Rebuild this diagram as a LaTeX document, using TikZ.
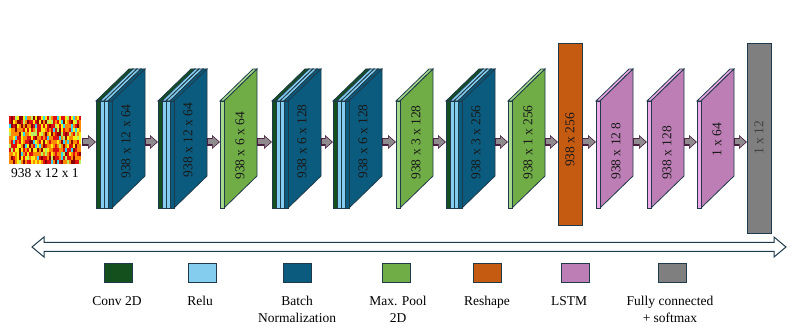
\documentclass[tikz,border=0pt]{standalone}
\usepackage{fontspec}
\setmainfont{Liberation Serif}
\usetikzlibrary{arrows.meta,positioning,calc}

\definecolor{convgreen}{HTML}{144F1E}
\definecolor{relublue}{HTML}{85CDEF}
\definecolor{bnblue}{HTML}{0B5B7E}
\definecolor{poolgreen}{HTML}{70AD47}
\definecolor{poollight}{HTML}{A6D98A}
\definecolor{reshapeorange}{HTML}{C55A11}
\definecolor{lstmpink}{HTML}{BC7EB4}
\definecolor{lstmlight}{HTML}{EDA8E6}
\definecolor{fcgray}{HTML}{7F7F7F}
\definecolor{edge}{HTML}{1F3B4B}
\definecolor{arrowline}{HTML}{4A2040}
\definecolor{arrowfill}{HTML}{8E8A8E}
\definecolor{hmA}{HTML}{8B0000}
\definecolor{hmB}{HTML}{E01010}
\definecolor{hmC}{HTML}{FF8A00}
\definecolor{hmD}{HTML}{FFEE10}
\definecolor{hmE}{HTML}{B8F060}
\definecolor{hmF}{HTML}{30D8F0}

% thin 3D slab: x, front width, front fill, top fill, side fill
\newcommand{\layerslab}[5]{%
  \filldraw[fill=#4, draw=edge, line width=0.8pt] (#1,101) -- (#1+#2,101) -- (#1+#2+33,69) -- (#1+33,69) -- cycle;
  \filldraw[fill=#5, draw=edge, line width=0.8pt] (#1+#2,101) -- (#1+#2+33,69) -- (#1+#2+33,176) -- (#1+#2,208) -- cycle;
  \filldraw[fill=#3, draw=edge, line width=0.8pt] (#1,101) rectangle (#1+#2,208);
}

\begin{document}
\begin{tikzpicture}[x=1pt, y=-1pt,
  lbl/.style={inner sep=0pt, font=\fontsize{13.5}{16}\selectfont},
  rot/.style={lbl, rotate=90, text=black!90},
  flatbox/.style={draw=edge, line width=0.9pt, inner sep=0pt, minimum width=24pt},
  legbox/.style={draw=edge, line width=0.9pt, inner sep=0pt, minimum width=28pt, minimum height=19pt},
  legtxt/.style={inner sep=0pt, anchor=north, align=center, font=\fontsize{13.5}{17}\selectfont},
  flow/.style={-{Triangle[width=10.5pt,length=6pt]}, line width=5pt, draw=arrowfill,
    shorten >=1.3pt, shorten <=1pt,
    preaction={draw=arrowline, line width=7.5pt, shorten >=0pt, shorten <=0pt, -{Triangle[width=13.5pt,length=8pt]}}},
  span/.style={draw=edge, line width=1pt, fill=white}
]
\fill[white] (0,0) rectangle (793,336);
\useasboundingbox (0,0) rectangle (793,336);

% input heat map
\pgfmathsetseed{11}
\foreach \i in {0,...,35}{
  \foreach \j in {0,...,11}{
    \pgfmathrandominteger{\k}{0}{11}
    \ifcase\k \def\hc{hmA}\or \def\hc{hmA}\or \def\hc{hmB}\or \def\hc{hmB}\or \def\hc{hmB}\or
      \def\hc{hmC}\or \def\hc{hmC}\or \def\hc{hmC}\or \def\hc{hmD}\or \def\hc{hmD}\or
      \def\hc{hmE}\else \def\hc{hmF}\fi
    \fill[\hc] (9+2*\i,116+4*\j) rectangle ++(2,4);
  }
}
\node[inner sep=0pt, minimum width=72pt, minimum height=48pt] (inp) at (45,140) {};
\node[lbl, below=4pt of inp] (inlbl) {938 x 12 x 1};
\coordinate (in-e) at (82,142);

% conv + relu + batch norm blocks
\foreach \x/\n/\t/\ty in {96/c1/938 x 12 x 64/141.5, 158/c2/938 x 12 x 64/140,
    272/c3/938 x 6 x 128/141.5, 333/c4/938 x 6 x 128/141.5, 446/c5/938 x 3 x 256/142.5}{
  \layerslab{\x}{4}{convgreen}{convgreen}{convgreen}
  \layerslab{\x+4}{4}{relublue}{relublue}{relublue}
  \layerslab{\x+8}{4}{relublue}{relublue}{relublue}
  \layerslab{\x+12}{4}{bnblue}{bnblue}{bnblue}
  \node[rot] (\n-lbl) at (\x+30,\ty) {\t};
  \coordinate (\n-w) at (\x,142);
  \coordinate (\n-e) at (\x+49,142);
}

% max pooling blocks
\foreach \x/\n/\t/\ty in {220/p1/938 x 6 x 64/146, 396/p2/938 x 3 x 128/142.5, 508/p3/938 x 1 x 256/142.5}{
  \layerslab{\x}{4}{poollight}{poollight}{poolgreen}
  \node[rot] (\n-lbl) at (\x+20,\ty) {\t};
  \coordinate (\n-w) at (\x,142);
  \coordinate (\n-e) at (\x+37,142);
}

% reshape
\node[flatbox, fill=reshapeorange, minimum height=182pt] (rs) at (570,134) {};
\node[rot] (rs-lbl) at (570,140) {938 x 256};
\coordinate (rs-w) at (558,142);
\coordinate (rs-e) at (582,142);

% lstm blocks
\foreach \x/\n/\t/\ty in {596/l1/938 x 12 8/151, 647/l2/938 x 128/153, 697/l3/1 x 64/140}{
  \layerslab{\x}{4}{lstmlight}{lstmlight}{lstmpink}
  \node[rot] (\n-lbl) at (\x+20,\ty) {\t};
  \coordinate (\n-w) at (\x,142);
  \coordinate (\n-e) at (\x+37,142);
}

% fully connected
\node[flatbox, fill=fcgray, minimum height=190pt] (fc) at (759,138) {};
\node[rot, text=black!75] (fc-lbl) at (759,138) {1 x 12};
\coordinate (fc-w) at (747,142);

% arrows between stages
\foreach \a/\b in {in-e/c1-w, c1-e/c2-w, c2-e/p1-w, p1-e/c3-w, c3-e/c4-w, c4-e/p2-w,
    p2-e/c5-w, c5-e/p3-w, p3-e/rs-w, rs-e/l1-w, l1-e/l2-w, l2-e/l3-w, l3-e/fc-w}
  \draw[flow] (\a) -- (\b);

% long double arrow
\coordinate (tl) at (32,247);
\coordinate (tr) at (786,247);
\draw[span] (tl) -- ++(12,-10) -- ++(0,5.5) -- ($(tr)+(-12,-4.5)$) -- ++(0,-5.5) -- (tr)
  -- ++(-12,10) -- ++(0,-5.5) -- ($(tl)+(12,4.5)$) -- ++(0,5.5) -- cycle;

% legend
\foreach \c/\bx/\tx/\t/\n in {convgreen/118/117/Conv 2D/lg1, relublue/202/200/Relu/lg2,
    bnblue/297/297/{Batch\\Normalization}/lg3, poolgreen/396/398/{Max. Pool\\2D}/lg4,
    reshapeorange/487/487/Reshape/lg5, lstmpink/575/569/LSTM/lg6,
    fcgray/672/670/{Fully connected\\+ softmax}/lg7}{
  \node[legbox, fill=\c] (\n) at (\bx,272.5) {};
  \node[legtxt] (\n-t) at (\tx,296) {\t};
}

\end{tikzpicture}
\end{document}
